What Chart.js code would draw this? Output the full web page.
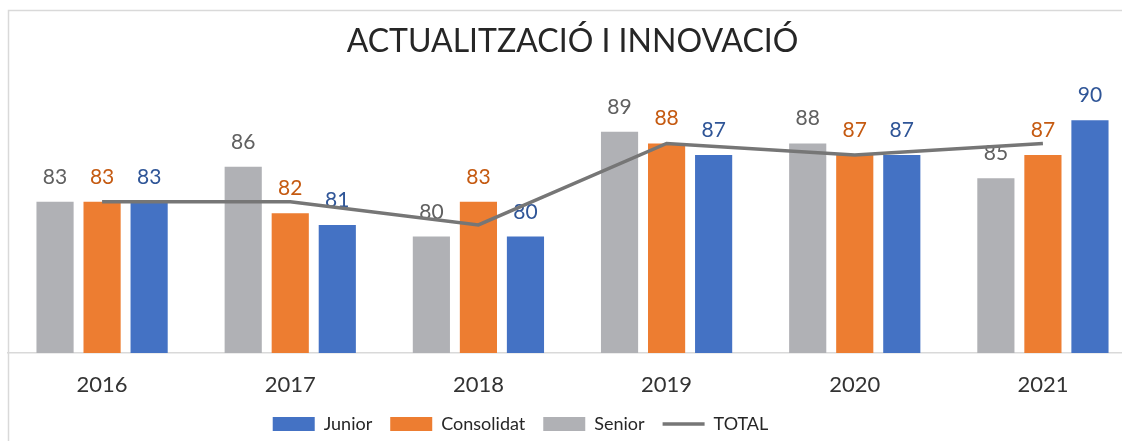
<!DOCTYPE html>
<html>
<head>
<meta charset="utf-8">
<script src="https://cdn.jsdelivr.net/npm/chart.js@4"></script>
<style>
  html, body { margin: 0; padding: 0; background: #fff; overflow: hidden; }
  #wrap { width: 1145px; height: 441px; overflow: hidden; }
</style>
</head>
<body>
<div id="wrap"><canvas id="myChart" width="1145" height="443"></canvas></div>
<script>
'use strict';

// dades
const years = ['2016', '2017', '2018', '2019', '2020', '2021'];
const senior = [83, 86, 80, 89, 88, 85];
const consolidat = [83, 82, 83, 88, 87, 87];
const junior = [83, 81, 80, 87, 87, 90];
const total = [83, 83, 81, 88, 87, 88];
const legendOrder = ['Junior', 'Consolidat', 'Senior', 'TOTAL'];

// etiquetes de valor, dibuixades just abans de la línia TOTAL (queda per sobre)
const valueLabels = {
  id: 'valueLabels',
  beforeDatasetDraw(chart, args) {
    if (chart.data.datasets[args.index].type !== 'line') return;
    const ctx = chart.ctx;
    ctx.save();
    ctx.font = '21px Lato';
    ctx.textAlign = 'center';
    ctx.textBaseline = 'alphabetic';
    chart.data.datasets.forEach((ds, i) => {
      if (ds.type === 'line') return;
      const meta = chart.getDatasetMeta(i);
      ctx.fillStyle = ds.labelColor;
      meta.data.forEach((bar, j) => {
        ctx.fillText(ds.data[j], bar.x, bar.y - 18);
      });
    });
    ctx.restore();
  }
};

// marc del gràfic + llegenda una mica desplaçada a l'esquerra
const frame = {
  id: 'frame',
  afterLayout(chart) {
    chart.legend.left -= 52;
    chart.legend.right -= 52;
  },
  afterDraw(chart) {
    const ctx = chart.ctx;
    ctx.save();
    ctx.strokeStyle = '#d9d9d9';
    ctx.lineWidth = 1.5;
    ctx.strokeRect(8.5, 10.5, chart.width - 17, chart.height + 20);
    ctx.restore();
  }
};

const ctx = document.getElementById('myChart').getContext('2d');

const data = {
  labels: years,
  datasets: [
    {
      type: 'bar',
      label: 'Senior',
      data: senior,
      backgroundColor: '#b0b1b5',
      labelColor: '#606060',
      pointStyle: 'rect',
      order: 1,
    },
    {
      type: 'bar',
      label: 'Consolidat',
      data: consolidat,
      backgroundColor: '#ed7d31',
      labelColor: '#c55a11',
      pointStyle: 'rect',
      order: 1,
    },
    {
      type: 'bar',
      label: 'Junior',
      data: junior,
      backgroundColor: '#4472c4',
      labelColor: '#2f5597',
      pointStyle: 'rect',
      order: 1,
    },
    {
      type: 'line',
      label: 'TOTAL',
      data: total,
      borderColor: '#767676',
      backgroundColor: '#767676',
      borderWidth: 3.5,
      pointRadius: 0,
      pointStyle: 'line',
      tension: 0,
      order: 0,
    }
  ]
};

const options = {
  responsive: false,
  animation: false,
  layout: {
    padding: { left: 8, right: 8, top: 10, bottom: 0 }
  },
  datasets: {
    bar: {
      categoryPercentage: 0.75,
      barPercentage: 0.79,
    }
  },
  scales: {
    x: {
      grid: { display: false, drawTicks: false },
      border: { display: true, color: '#d9d9d9', width: 1.5 },
      ticks: {
        color: '#333333',
        padding: 19,
        font: { family: 'Lato', size: 22 },
      },
      afterFit(scale) {
        scale.height = 44;
      },
    },
    y: {
      display: false,
      min: 70,
      max: 94.1,
    }
  },
  plugins: {
    title: {
      display: true,
      text: 'ACTUALITZACIÓ I INNOVACIÓ',
      color: '#262626',
      font: { family: 'Lato', size: 32, weight: 'normal' },
      padding: { top: 12, bottom: 12 },
    },
    legend: {
      position: 'bottom',
      labels: {
        usePointStyle: true,
        pointStyleWidth: 42,
        boxHeight: 14,
        padding: 18,
        color: '#262626',
        font: { family: 'Lato', size: 18 },
        sort: (a, b) => legendOrder.indexOf(a.text) - legendOrder.indexOf(b.text),
      }
    },
    tooltip: { enabled: false },
  },
};

new Chart(ctx, {
  data: data,
  options: options,
  plugins: [valueLabels, frame],
});
</script>
</body>
</html>
